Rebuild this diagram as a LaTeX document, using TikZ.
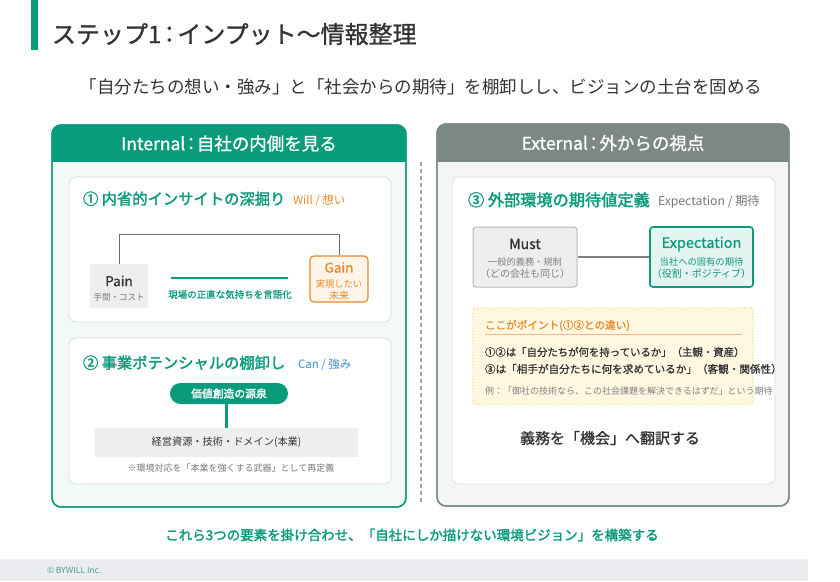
\documentclass[tikz,border=0pt]{standalone}
\usepackage{fontspec}
\setmainfont{Noto Sans CJK JP}
\newfontfamily\medA[FakeBold=1]{Noto Sans CJK JP}
\newfontfamily\medB[FakeBold=2]{Noto Sans CJK JP}
\definecolor{grn}{HTML}{0A9B7D}
\definecolor{lgrn}{HTML}{F2F9F7}
\definecolor{tealbg}{HTML}{E6F4F1}
\definecolor{dark}{HTML}{333333}
\definecolor{midgray}{HTML}{777777}
\definecolor{hdrgray}{HTML}{7B8885}
\definecolor{panelgray}{HTML}{F4F5F5}
\definecolor{cardline}{HTML}{DDDDDD}
\definecolor{boxgray}{HTML}{EEEEEE}
\definecolor{orng}{HTML}{E8892C}
\definecolor{lorng}{HTML}{FFF4E8}
\definecolor{blu}{HTML}{3A8ED6}
\definecolor{ylw}{HTML}{FFF7E0}
\definecolor{ylwline}{HTML}{F3D36B}
\definecolor{foot}{HTML}{EBECF0}
\definecolor{copyc}{HTML}{4A9C90}
\newcommand\fsz[2]{\fontsize{#1}{#2}\selectfont}
\tikzset{
  txt/.style={inner sep=0pt, outer sep=0pt},
  card/.style={draw=cardline, fill=white, rounded corners=7, line width=0.8pt, inner sep=0pt},
  smallbox/.style={inner sep=0pt, align=center},
}
\begin{document}
\begin{tikzpicture}[x=1pt,y=-1pt]
\useasboundingbox (0,0) rectangle (840,581);
% top bar and title
\fill[grn] (31,0) rectangle (37.5,50);
\node[txt, anchor=west, text=dark] (title) at (52,34) {\fsz{24}{28}\medA ステップ1\kern-4pt：\kern-4pt インプット～情報整理};
\node[txt, text=dark] (sub) at (421,87) {\fsz{17.5}{21}「自分たちの想い・強み」と「社会からの期待」を棚卸しし、ビジョンの土台を固める};

% left panel
\node[draw=grn, fill=lgrn, rounded corners=9, line width=1.4pt, minimum width=354pt, minimum height=382pt, inner sep=0pt] (lpanel) at (229,316) {};
\begin{scope}
\clip[rounded corners=9] (52,125) rectangle (406,507);
\fill[grn] (52,125) rectangle (406,161.5);
\end{scope}
\draw[grn, rounded corners=9, line width=1.4pt] (52,125) rectangle (406,507);
\node[txt, text=white] (lhead) at (229,143.5) {\fsz{17.5}{20}\medA Internal\kern-3pt：\kern-3pt 自社の内側を見る};

% card 1
\node[card, minimum width=322pt, minimum height=145pt] (card1) at (230,249.5) {};
\node[txt, anchor=base west, text=grn] (c1title) at (83,204.5) {\fsz{15.3}{18}\medB ① 内省的インサイトの深掘り};
\node[txt, anchor=base west, text=orng] (c1tag) at (293,204.5) {\fsz{11.5}{14}Will / 想い};
\node[fill=boxgray, minimum width=58pt, minimum height=44pt, inner sep=0pt] (pain) at (119,286) {};
\node[txt, text=dark] (paint) at (119,281) {\fsz{13.5}{15}\medA Pain};
\node[txt, text=midgray] (painsub) at (119,297) {\fsz{8.5}{10}手間・コスト};
\node[draw=orng, fill=lorng, rounded corners=4, line width=1.2pt, minimum width=58pt, minimum height=46pt, inner sep=0pt] (gain) at (339,279) {};
\node[txt, text=orng] (gaint) at (339,267.5) {\fsz{13.5}{15}\medA Gain};
\node[smallbox, text=orng] (gainsub) at (339,289.5) {\fsz{9.3}{11}実現したい\\未来};
\draw[midgray!90!black, line width=1pt] (pain.north) -- ++(0,-29) -| (gain.north);
\coordinate (gl1) at (171,278);
\coordinate (gl2) at (288,278);
\draw[grn, line width=1.6pt] (gl1) -- (gl2);
\node[txt, text=grn] (glabel) at (230,294.5) {\fsz{9.5}{11}\medA 現場の正直な気持ちを言語化};

% card 2
\node[card, minimum width=322pt, minimum height=146pt] (card2) at (230,411) {};
\node[txt, anchor=base west, text=grn] (c2title) at (83,368.5) {\fsz{15.3}{18}\medB ② 事業ポテンシャルの棚卸し};
\node[txt, anchor=base west, text=blu] (c2tag) at (298,368.5) {\fsz{11.5}{14}Can / 強み};
\node[fill=grn, text=white, rounded corners=10.5, minimum width=118pt, minimum height=21pt, inner sep=0pt] (pill) at (229,393.5) {\fsz{10.8}{13}\medB 価値創造の源泉};
\node[fill=boxgray, text=dark, minimum width=263pt, minimum height=29pt, inner sep=0pt] (res) at (226.5,442.5) {\fsz{10.2}{12}経営資源・技術・ドメイン(本業)};
\draw[grn, line width=2.6pt] (pill.south -| res.north) -- (res.north);
\node[txt, text=midgray] (note) at (231,468) {\fsz{9}{11}※環境対応を「本業を強くする武器」として再定義};

% divider
\coordinate (dv1) at (421,162);
\coordinate (dv2) at (421,505);
\draw[gray!70, line width=1.2pt, dash pattern=on 4pt off 3pt] (dv1) -- (dv2);

% right panel
\node[draw=hdrgray, fill=panelgray, rounded corners=9, line width=1.4pt, minimum width=352pt, minimum height=382pt, inner sep=0pt] (rpanel) at (613,315) {};
\begin{scope}
\clip[rounded corners=9] (437,124) rectangle (789,506);
\fill[hdrgray] (437,124) rectangle (789,161.5);
\end{scope}
\draw[hdrgray, rounded corners=9, line width=1.4pt] (437,124) rectangle (789,506);
\node[txt, text=white] (rhead) at (613,143) {\fsz{17.5}{20}\medA External\kern-3pt：\kern-3pt 外からの視点};

% card 3
\node[card, minimum width=323pt, minimum height=307pt] (card3) at (613.5,330.5) {};
\node[txt, anchor=base west, text=grn] (c3title) at (468,206) {\fsz{16.2}{18}\medB ③ 外部環境の期待値定義};
\node[txt, anchor=base west, text=midgray] (c3tag) at (658,205.5) {\fsz{12.2}{14}Expectation / 期待};
\node[draw=gray!55, fill=boxgray, rounded corners=3, line width=1pt, minimum width=104pt, minimum height=60pt, inner sep=0pt] (must) at (525,257) {};
\node[txt, text=dark] (mustt) at (525,244) {\fsz{14}{16}\medA Must};
\node[smallbox, text=gray] (mustsub) at (525,268) {\fsz{9.2}{11}一般的義務・規制\\（どの会社も同じ）};
\node[draw=grn, fill=tealbg, rounded corners=3, line width=1.6pt, minimum width=103pt, minimum height=60pt, inner sep=0pt] (expect) at (701.5,257) {};
\node[txt, text=grn] (expt) at (701.5,244) {\fsz{14.5}{16}\medA Expectation};
\node[smallbox, text=grn] (expsub) at (701.5,268) {\fsz{9.3}{11}当社への固有の期待\\（役割・ポジティブ）};
\draw[gray, line width=1.5pt] (must.east) -- (expect.west);

% point box
\node[draw=ylwline, fill=ylw, dotted, line width=1pt, rounded corners=2, minimum width=280pt, minimum height=96pt, inner sep=0pt] (point) at (613,356) {};
\node[txt, anchor=base west, text=orng] (pointt) at (485,329) {\fsz{10.6}{13}\medA ここがポイント(①②との違い)};
\coordinate (ul1) at (485,334);
\coordinate (ul2) at (742,334);
\draw[orng!60, line width=0.8pt] (ul1) -- (ul2);
\node[txt, anchor=base west, text=dark] (p1) at (485,356) {\fsz{10.4}{12}\medA ①②は「自分たちが何を持っているか」（主観・資産）};
\node[txt, anchor=base west, text=dark] (p2) at (485,373) {\fsz{10.6}{12}\medA ③は「相手が自分たちに何を求めているか」（客観・関係性）};
\node[txt, anchor=base west, text=gray] (p3) at (485,394) {\fsz{9}{10}例：「御社の技術なら、この社会課題を解決できるはずだ」という期待};
\node[txt, text=dark] (trans) at (610,438) {\fsz{15}{17}\medA 義務を「機会」へ翻訳する};

% bottom
\node[txt, text=grn] (bottom) at (412,535) {\fsz{13.5}{16}\medB これら3つの要素を掛け合わせ、「自社にしか描けない環境ビジョン」を構築する};
\fill[foot] (0,559) rectangle (808,581);
\node[txt, anchor=west, text=copyc] (copy) at (47,570) {\fsz{8.5}{10}© BYWILL Inc.};
\end{tikzpicture}
\end{document}
